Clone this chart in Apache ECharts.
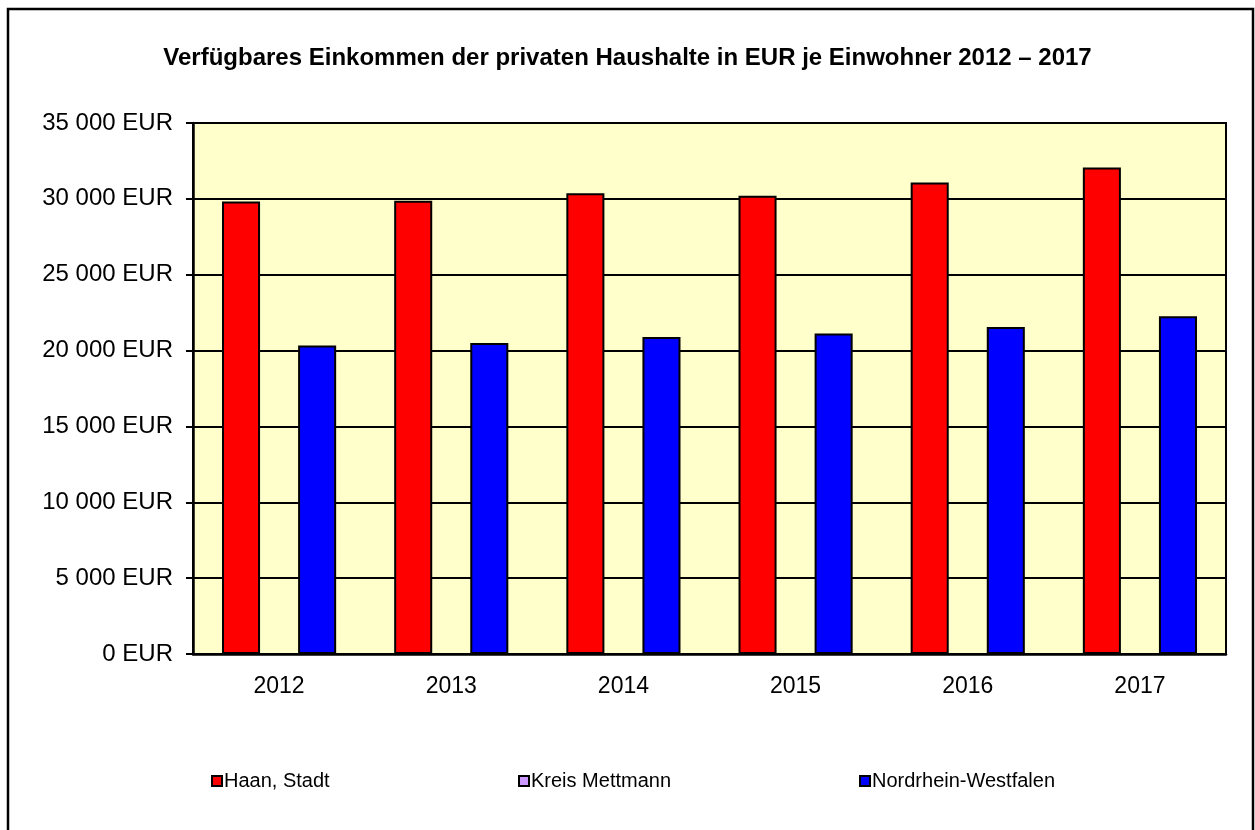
<!DOCTYPE html>
<html>
<head>
<meta charset="utf-8">
<script src="https://cdn.jsdelivr.net/npm/echarts@6/dist/echarts.min.js"></script>
<style>html,body{margin:0;padding:0;background:#fff}#c{width:1255px;height:830px}</style>
</head>
<body>
<div id="c"></div>
<script>
const titleText = 'Verfügbares Einkommen der privaten Haushalte in EUR je Einwohner 2012 – 2017';
const years = ['2012', '2013', '2014', '2015', '2016', '2017'];
const haan = [29830, 29870, 30370, 30200, 31070, 32060];
const kreisMettmann = [null, null, null, null, null, null];
const nrw = [20330, 20500, 20900, 21120, 21560, 22260];
const seriesNames = ['Haan, Stadt', 'Kreis Mettmann', 'Nordrhein-Westfalen'];

const font = 'Liberation Sans, Arial, sans-serif';
const fmt = v => String(v).replace(/\B(?=(\d{3})+(?!\d))/g, ' ') + ' EUR';
const chart = echarts.init(document.getElementById('c'), null, {renderer: 'canvas'});
const barStyle = c => ({color: c, borderColor: '#000', borderWidth: 2});
const legendBase = {
  top: 766, icon: 'rect', itemWidth: 10, itemHeight: 10, itemGap: 0,
  textStyle: {fontFamily: font, fontSize: 20, color: '#000', padding: [0, 0, 0, -3]},
  itemStyle: {borderColor: '#000', borderWidth: 2}
};
chart.setOption({
  animation: false,
  backgroundColor: '#fff',
  title: {
    text: titleText, left: 'center', top: 41,
    textStyle: {fontFamily: font, fontSize: 24, fontWeight: 'bold', color: '#000'}
  },
  legend: [
    Object.assign({}, legendBase, {left: 206, data: [seriesNames[0]]}),
    Object.assign({}, legendBase, {left: 513, data: [seriesNames[1]]}),
    Object.assign({}, legendBase, {left: 854, data: [seriesNames[2]]})
  ],
  grid: {
    left: 193, right: 29, top: 123, bottom: 176, containLabel: false,
    show: true, backgroundColor: '#FFFFCC', borderColor: '#000', borderWidth: 2
  },
  xAxis: {
    type: 'category', data: years,
    axisLine: {lineStyle: {color: '#000', width: 2.5}},
    axisTick: {show: false},
    axisLabel: {fontFamily: font, fontSize: 23, color: '#000', margin: 21}
  },
  yAxis: {
    type: 'value', min: 0, max: 35000, interval: 5000,
    axisLine: {show: true, lineStyle: {color: '#000', width: 2.5}},
    axisTick: {show: true, length: 7, lineStyle: {color: '#000', width: 2}},
    axisLabel: {fontFamily: font, fontSize: 24, color: '#000', margin: 20, formatter: fmt},
    splitLine: {lineStyle: {color: '#000', width: 2}}
  },
  series: [
    {name: seriesNames[0], type: 'bar', data: haan, itemStyle: barStyle('#FF0000'), barGap: '0%', barCategoryGap: '33.7%'},
    {name: seriesNames[1], type: 'bar', data: kreisMettmann, itemStyle: barStyle('#CC99FF')},
    {name: seriesNames[2], type: 'bar', data: nrw, itemStyle: barStyle('#0000FF')}
  ],
  graphic: [{
    type: 'rect', silent: true,
    shape: {x: 8, y: 9, width: 1245, height: 850},
    style: {fill: 'none', stroke: '#000', lineWidth: 2.5}
  }]
});
</script>
</body>
</html>
